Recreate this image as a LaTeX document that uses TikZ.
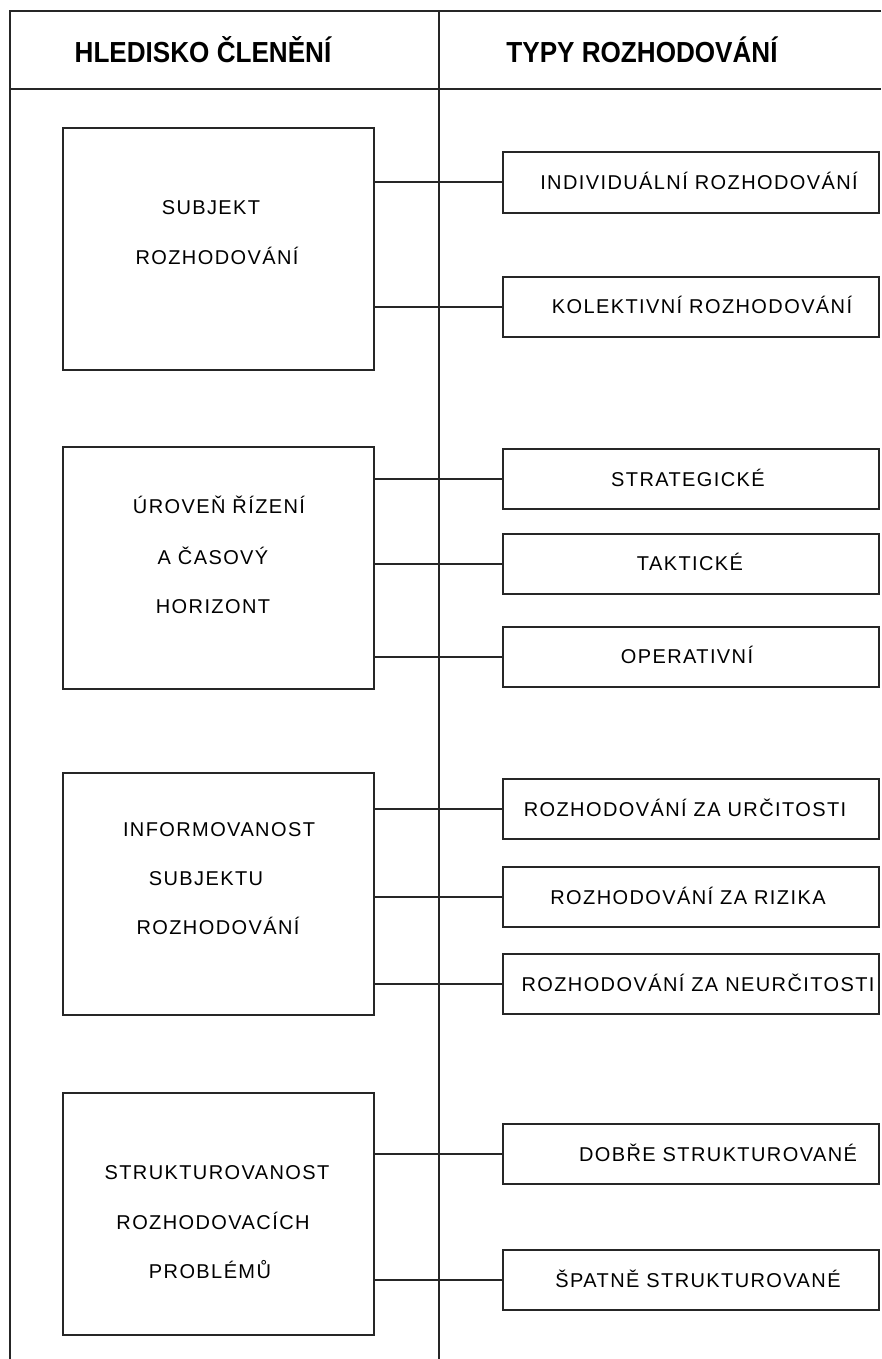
\documentclass[tikz,border=0pt]{standalone}
\usepackage{fontspec}
\setmainfont{Liberation Sans}
\newfontfamily\headfont[FakeStretch=0.9]{Liberation Sans}
\newfontfamily\boxfont[LetterSpace=7]{Liberation Sans}
\begin{document}
\begin{tikzpicture}[x=1pt,y=-1pt,
  rule/.style={line width=2pt, draw=black!85},
  catbox/.style={draw=black!85, line width=2pt, minimum width=311pt, minimum height=242pt, inner sep=0pt},
  typebox/.style={draw=black!85, line width=2pt, minimum width=376pt, minimum height=60pt, inner sep=0pt},
  label/.style={font=\boxfont\fontsize{20}{20}\selectfont, inner sep=0pt, anchor=base, yshift=-7.2pt},
  head/.style={font=\headfont\bfseries\fontsize{29}{29}\selectfont, inner sep=0pt, anchor=base, yshift=-10.4pt},
  link/.style={line width=2pt, draw=black!85}]
\useasboundingbox (0,0) rectangle (881,1359);

% frame of the table
\coordinate (tl) at (10,11);
\coordinate (tr) at (881,11);
\coordinate (bl) at (10,1359);
\coordinate (hl) at (10,89);
\coordinate (hr) at (881,89);
\coordinate (mt) at (439,11);
\coordinate (mb) at (439,1359);
\draw[rule] (tr) -- (tl) -- (bl);
\draw[rule] (hl) -- (hr);
\draw[rule] (mt) -- (mb);

% column headings
\node[head] (h1) at (203,52) {HLEDISKO ČLENĚNÍ};
\node[head] (h2) at (642,52) {TYPY ROZHODOVÁNÍ};

% criteria (left column)
\node[catbox] (c1) at (218.5,249) {};
\node[catbox] (c2) at (218.5,568) {};
\node[catbox] (c3) at (218.5,893.5) {};
\node[catbox] (c4) at (218.5,1214) {};

\node[label] (c1a) at (211,207) {SUBJEKT};
\node[label] (c1b) at (217,257) {ROZHODOVÁNÍ};
\node[label] (c2a) at (219,506) {ÚROVEŇ ŘÍZENÍ};
\node[label] (c2b) at (213,557) {A ČASOVÝ};
\node[label] (c2c) at (213,606) {HORIZONT};
\node[label] (c3a) at (219,829) {INFORMOVANOST};
\node[label] (c3b) at (206,878) {SUBJEKTU};
\node[label] (c3c) at (218,927) {ROZHODOVÁNÍ};
\node[label] (c4a) at (217,1172) {STRUKTUROVANOST};
\node[label] (c4b) at (213,1222) {ROZHODOVACÍCH};
\node[label] (c4c) at (210,1271) {PROBLÉMŮ};

% decision types (right column)
\node[typebox] (ind) at (691,182.5) {};
\node[typebox] (kol) at (691,306.5) {};
\node[typebox] (str) at (691,479) {};
\node[typebox] (tak) at (691,563.5) {};
\node[typebox] (ope) at (691,656.5) {};
\node[typebox] (urc) at (691,809) {};
\node[typebox] (riz) at (691,897) {};
\node[typebox] (neu) at (691,984) {};
\node[typebox] (dob) at (691,1154) {};
\node[typebox] (spa) at (691,1280) {};

\node[label] (indt) at ([xshift=8pt]ind.center) {INDIVIDUÁLNÍ ROZHODOVÁNÍ};
\node[label] (kolt) at ([xshift=11pt]kol.center) {KOLEKTIVNÍ ROZHODOVÁNÍ};
\node[label] (strt) at ([xshift=-3pt]str.center) {STRATEGICKÉ};
\node[label] (takt) at ([xshift=-1pt]tak.center) {TAKTICKÉ};
\node[label] (opet) at ([xshift=-4pt]ope.center) {OPERATIVNÍ};
\node[label] (urct) at ([xshift=-6pt]urc.center) {ROZHODOVÁNÍ ZA URČITOSTI};
\node[label] (rizt) at ([xshift=-3pt]riz.center) {ROZHODOVÁNÍ ZA RIZIKA};
\node[label] (neut) at ([xshift=7pt]neu.center) {ROZHODOVÁNÍ ZA NEURČITOSTI};
\node[label] (dobt) at ([xshift=27pt]dob.center) {DOBŘE STRUKTUROVANÉ};
\node[label] (spat) at ([xshift=7pt]spa.center) {ŠPATNĚ STRUKTUROVANÉ};

% links from criteria to their decision types
\foreach \c/\t in {c1/ind, c1/kol, c2/str, c2/tak, c2/ope, c3/urc, c3/riz, c3/neu, c4/dob, c4/spa}
  \draw[link] (\c.east |- \t.west) -- (\t.west);
\end{tikzpicture}
\end{document}
